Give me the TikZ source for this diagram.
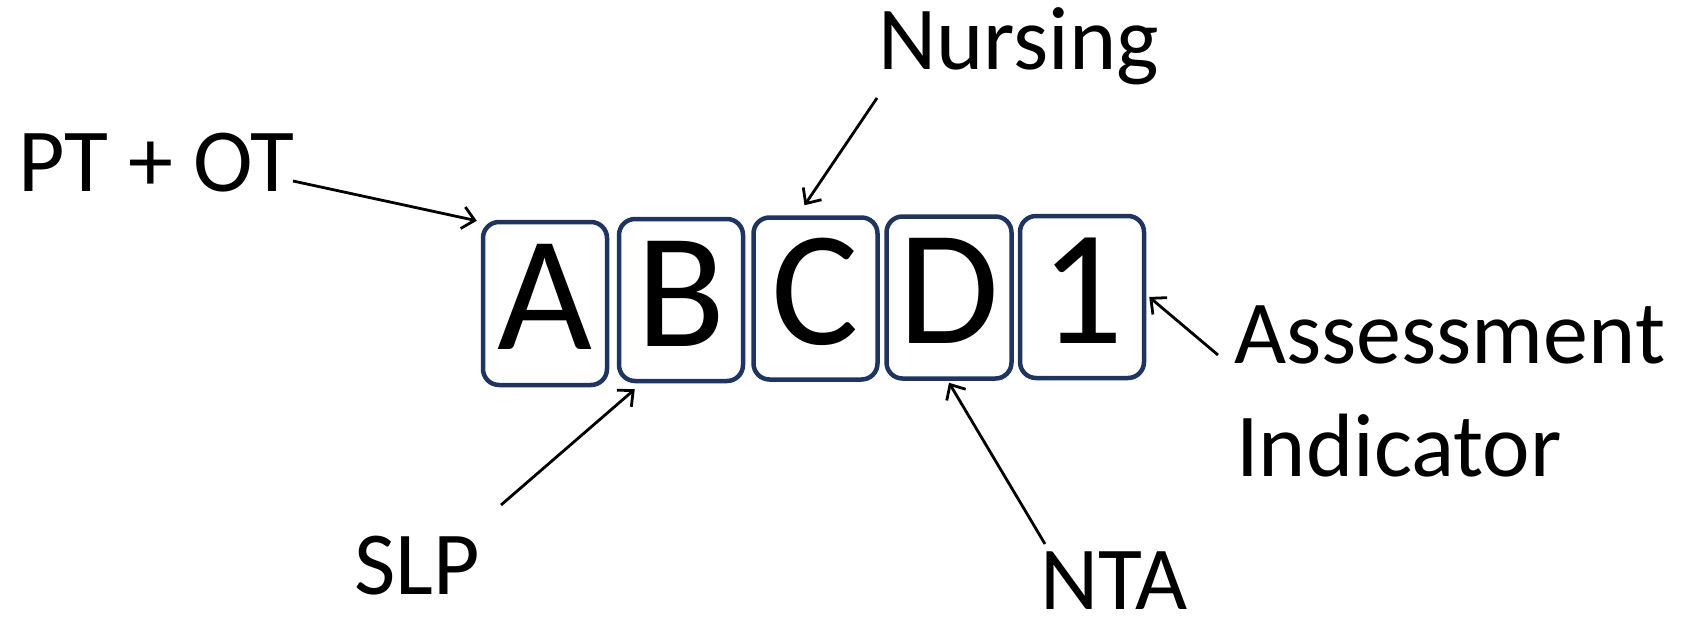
\documentclass[tikz,border=0pt]{standalone}
\usepackage{fontspec}
\setmainfont{Carlito}
\usetikzlibrary{arrows.meta}
\definecolor{boxnavy}{HTML}{1F3560}
\tikzset{
  letterbox/.style={draw=boxnavy, line width=4.5pt, rounded corners=16pt, inner sep=0pt,
    minimum width=124pt, minimum height=162pt, text height=104pt, text depth=12pt,
    font=\fontsize{164}{164}\selectfont},
  lbl/.style={inner sep=0pt, anchor=base west, font=\fontsize{90}{108}\selectfont},
  arr/.style={line width=2.8pt, -{Straight Barb[length=12pt,width=22pt,line width=2.8pt]}}
}
\begin{document}
\begin{tikzpicture}[x=1pt,y=-1pt]
\useasboundingbox (0,0) rectangle (1708,618);
% boxes
\node[letterbox, minimum height=163pt] (A) at (545,303.5) {A};
\node[letterbox] (B) at (681,300) {B};
\node[letterbox] (C) at (815.5,298.5) {C};
\node[letterbox, minimum width=125pt] (D) at (949,297.5) {D};
\node[letterbox] (E) at (1082,297) {1};
% labels
\node[lbl] (ptot) at (18,191) {PT + OT};
\node[lbl] (nurs) at (878,70) {Nursing};
\node[lbl] (asm1) at (1234,363) {Assessment};
\node[lbl] (asm2) at (1236,476) {Indicator};
\node[lbl] (slp) at (354,594) {SLP};
\node[lbl] (nta) at (1040,609) {NTA};
% arrow start points
\coordinate (ptotS) at (293,181);
\coordinate (nursS) at (877,98);
\coordinate (asmS) at (1218,355);
\coordinate (slpS) at (501,505);
\coordinate (ntaS) at (1045,544);
% arrows
\draw[arr] (ptotS) -- ([shift={(-4,1)}]A.north west);
\draw[arr] (nursS) -- ([shift={(-11,-10)}]C.north);
\draw[arr] (asmS) -- ([shift={(3,0)}]E.east);
\draw[arr] (slpS) -- ([shift={(18,6)}]B.south west);
\draw[arr] (ntaS) -- ([shift={(0,2)}]D.south);
\end{tikzpicture}
\end{document}
